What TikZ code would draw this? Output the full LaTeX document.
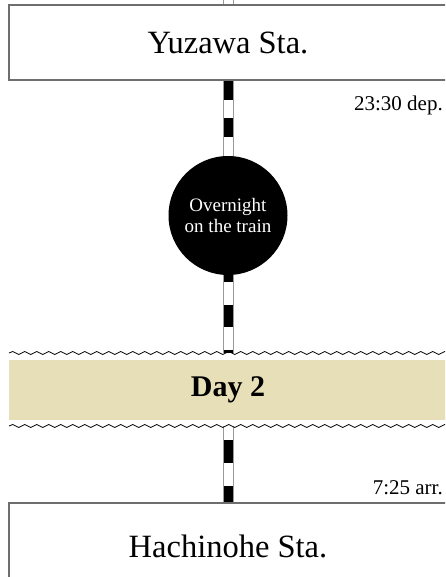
\documentclass[tikz,border=0pt]{standalone}
\usepackage{fontspec}
\setmainfont{Liberation Serif}
\usetikzlibrary{decorations.pathmorphing,backgrounds}
\definecolor{railgray}{HTML}{9A9A9A}
\definecolor{boxgray}{HTML}{6E6E6E}
\definecolor{bandtan}{HTML}{E6DFB7}
\tikzset{
  stationbox/.style={draw=boxgray, line width=1.5pt, fill=white, minimum width=438pt, inner sep=0pt, font=\fontsize{32.5}{36}\selectfont},
  nightcircle/.style={circle, fill=black, text=white, minimum size=119pt, inner sep=0pt, align=center, font=\fontsize{19}{20.5}\selectfont},
  dayband/.style={fill=bandtan, minimum width=438pt, minimum height=60pt, inner sep=0pt, font=\bfseries\fontsize{30}{32}\selectfont},
  timelabel/.style={anchor=base east, inner sep=0pt, font=\fontsize{21}{24}\selectfont},
  wavy/.style={draw=black, line width=0.8pt, decorate, decoration={snake, segment length=12pt, amplitude=1.5pt}},
  rail/.style={draw=railgray, line width=11pt, postaction={draw=white, line width=9pt}},
  ties/.style 2 args={postaction={draw=black, line width=9pt, dash pattern=#1, dash phase=#2}},
}
\begin{document}
\begin{tikzpicture}[x=1pt,y=-1pt]
\clip (0,0) rectangle (445,577);
\node[stationbox, minimum height=75pt] (yuzawa) at (228,42.5) {Yuzawa Sta.};
\node[nightcircle] (night) at (228,215.5) {Overnight\\on the train};
\node[dayband] (day2) at (228,390) {Day 2};
\node[stationbox, minimum height=87pt] (hachinohe) at (228,546.5) {Hachinohe Sta.};
\node[timelabel] (dep) at (443,111) {23:30 dep.};
\node[timelabel] (arr) at (443,494) {7:25 arr.};
\coordinate (topend) at (228,0);
\coordinate (waveA) at (228,353);
\coordinate (waveB) at (228,426);
\coordinate (wAl) at (9,353);
\coordinate (wAr) at (460,353);
\coordinate (wBl) at (9,426);
\coordinate (wBr) at (460,426);
\begin{pgfonlayer}{background}
\fill[white] (0,0) rectangle (445,577);
\draw[rail] (topend) -- (yuzawa.north);
\draw[rail, ties={on 19pt off 18.5pt}{0pt}] (yuzawa.south) -- (night.north);
\draw[rail, ties={on 22.5pt off 22.5pt}{15.5pt}] (night.south) -- (waveA);
\draw[rail, ties={on 23pt off 23pt}{32pt}] (waveB) -- (hachinohe.north);
\end{pgfonlayer}
\draw[wavy] (wAl) -- (wAr);
\draw[wavy] (wBl) -- (wBr);
\end{tikzpicture}
\end{document}
